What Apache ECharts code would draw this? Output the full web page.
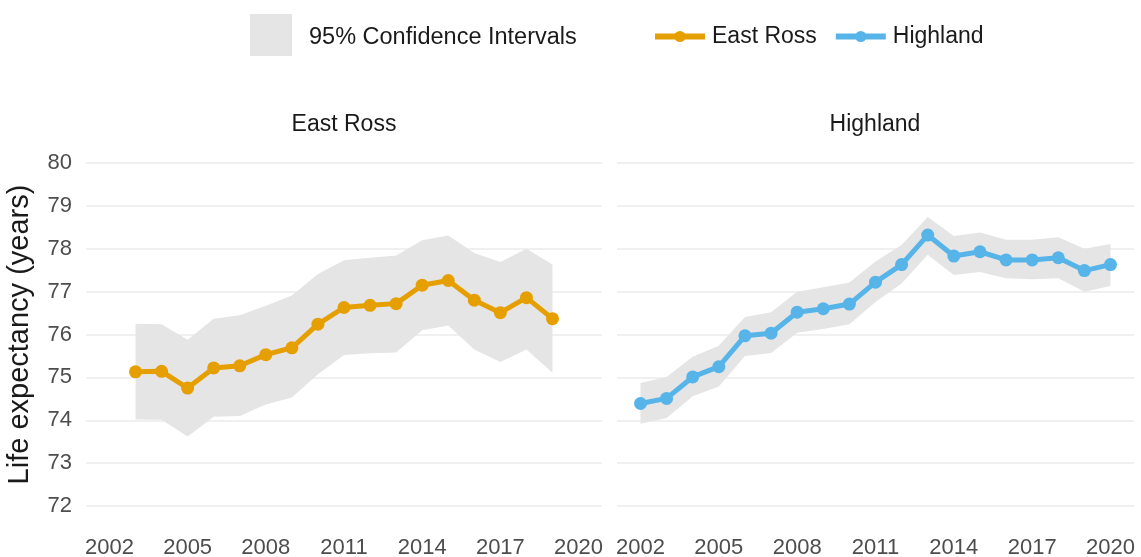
<!DOCTYPE html>
<html>
<head>
<meta charset="utf-8">
<script src="https://cdn.jsdelivr.net/npm/echarts@6/dist/echarts.min.js"></script>
<style>
  html, body { margin: 0; padding: 0; background: #fff; }
  #chart { width: 1141px; height: 557px; }
</style>
</head>
<body>
<div id="chart"></div>
<script>
// East Ross
const erYears = [2003, 2004, 2005, 2006, 2007, 2008, 2009, 2010, 2011, 2012, 2013, 2014, 2015, 2016, 2017, 2018, 2019];
const erValues = [75.13, 75.14, 74.75, 75.22, 75.27, 75.53, 75.69, 76.24, 76.63, 76.68, 76.72, 77.15, 77.26, 76.80, 76.51, 76.86, 76.37];
const erLower = [74.02, 74.01, 73.62, 74.08, 74.10, 74.37, 74.53, 75.07, 75.52, 75.56, 75.58, 76.10, 76.21, 75.65, 75.36, 75.65, 75.11];
const erUpper = [76.25, 76.24, 75.88, 76.37, 76.45, 76.67, 76.91, 77.41, 77.73, 77.79, 77.84, 78.20, 78.31, 77.90, 77.69, 78.00, 77.63];

// Highland
const hlYears = [2002, 2003, 2004, 2005, 2006, 2007, 2008, 2009, 2010, 2011, 2012, 2013, 2014, 2015, 2016, 2017, 2018, 2019, 2020];
const hlValues = [74.39, 74.51, 75.01, 75.25, 75.97, 76.03, 76.52, 76.60, 76.71, 77.22, 77.63, 78.32, 77.83, 77.93, 77.74, 77.74, 77.79, 77.49, 77.63];
const hlLower = [73.92, 74.05, 74.56, 74.79, 75.50, 75.57, 76.04, 76.13, 76.24, 76.76, 77.19, 77.86, 77.39, 77.46, 77.31, 77.29, 77.31, 77.00, 77.13];
const hlUpper = [74.87, 75.01, 75.48, 75.74, 76.41, 76.52, 77.00, 77.10, 77.21, 77.70, 78.09, 78.74, 78.30, 78.38, 78.21, 78.21, 78.27, 78.00, 78.11];

const xTicks = [2002, 2005, 2008, 2011, 2014, 2017, 2020];
const panels = ["East Ross", "Highland"];
const ciName = "95% Confidence Intervals";

const font = '"Liberation Sans", Arial, sans-serif';
const colors = { "East Ross": "#E69F00", "Highland": "#56B4E9" };
const bandColor = "#e5e5e5";

const pairs = (xs, ys) => xs.map((x, i) => [x, ys[i]]);

function xAxisFor(idx) {
  return {
    type: "value",
    gridIndex: idx,
    min: 2001.1,
    max: 2020.9,
    axisLine: { show: false },
    axisTick: { show: false },
    splitLine: { show: false },
    axisLabel: {
      customValues: xTicks,
      formatter: (v) => String(v),
      fontSize: 22,
      color: "#4d4d4d",
      fontFamily: font,
      margin: 31,
    },
  };
}

function yAxisFor(idx) {
  return {
    type: "value",
    gridIndex: idx,
    min: 72,
    max: 80,
    interval: 1,
    name: idx === 0 ? "Life expectancy (years)" : "",
    nameLocation: "middle",
    nameGap: 52,
    nameTextStyle: { fontSize: 29, color: "#1a1a1a", fontFamily: font },
    axisLine: { show: false },
    axisTick: { show: false },
    axisLabel: {
      show: idx === 0,
      fontSize: 22,
      color: "#4d4d4d",
      fontFamily: font,
      margin: 14,
    },
    splitLine: { lineStyle: { color: "#ebebeb", width: 1.6 } },
  };
}

// confidence band drawn as one polygon per panel, through the axis scales
function bandSeries(idx, xs, lo, hi) {
  return {
    name: ciName,
    type: "custom",
    xAxisIndex: idx,
    yAxisIndex: idx,
    silent: true,
    itemStyle: { color: bandColor },
    encode: { x: 0, y: [1, 2] },
    data: xs.map((x, i) => [x, lo[i], hi[i]]),
    renderItem: (params, api) => {
      if (params.dataIndex !== 0) return null;
      const top = xs.map((x, i) => api.coord([x, hi[i]]));
      const bottom = xs.map((x, i) => api.coord([x, lo[i]])).reverse();
      return {
        type: "polygon",
        shape: { points: top.concat(bottom) },
        style: { fill: bandColor },
      };
    },
    z: 1,
  };
}

function lineSeries(idx, name, xs, ys) {
  return {
    name: name,
    type: "line",
    xAxisIndex: idx,
    yAxisIndex: idx,
    symbol: "circle",
    symbolSize: 13,
    lineStyle: { width: 5, color: colors[name] },
    itemStyle: { color: colors[name] },
    data: pairs(xs, ys),
    z: 3,
  };
}

const chart = echarts.init(document.getElementById("chart"), null, { renderer: "canvas" });

const option = {
  animation: false,
  backgroundColor: "#fff",
  grid: [
    { left: 86, top: 163, width: 516, height: 343, outerBoundsMode: "none" },
    { left: 617, top: 163, width: 517, height: 343, outerBoundsMode: "none" },
  ],
  xAxis: [xAxisFor(0), xAxisFor(1)],
  yAxis: [yAxisFor(0), yAxisFor(1)],
  legend: [
    {
      data: [{ name: ciName, icon: "rect", itemStyle: { color: bandColor } }],
      left: 245,
      top: 9,
      itemWidth: 42,
      itemHeight: 42,
      formatter: (name) => "{t|" + name + "}",
      textStyle: {
        color: "#1a1a1a",
        fontFamily: font,
        rich: { t: { fontSize: 23.5, color: "#1a1a1a", fontFamily: font, padding: [6, 0, 0, 12] } },
      },
      selectedMode: false,
    },
    {
      data: panels.map((p) => ({ name: p, lineStyle: { width: 6 } })),
      left: 647,
      top: 20,
      itemWidth: 50,
      itemHeight: 14,
      itemGap: 16,
      textStyle: { fontSize: 23, color: "#1a1a1a", fontFamily: font, padding: [0, 0, 0, 2] },
      selectedMode: false,
    },
  ],
  graphic: [
    {
      type: "text",
      x: 344,
      y: 125,
      style: { text: panels[0], fontSize: 23, fill: "#1a1a1a", fontFamily: font, align: "center", verticalAlign: "middle" },
    },
    {
      type: "text",
      x: 875,
      y: 125,
      style: { text: panels[1], fontSize: 23, fill: "#1a1a1a", fontFamily: font, align: "center", verticalAlign: "middle" },
    },
  ],
  series: [
    bandSeries(0, erYears, erLower, erUpper),
    bandSeries(1, hlYears, hlLower, hlUpper),
    lineSeries(0, "East Ross", erYears, erValues),
    lineSeries(1, "Highland", hlYears, hlValues),
  ],
};

chart.setOption(option);
</script>
</body>
</html>
